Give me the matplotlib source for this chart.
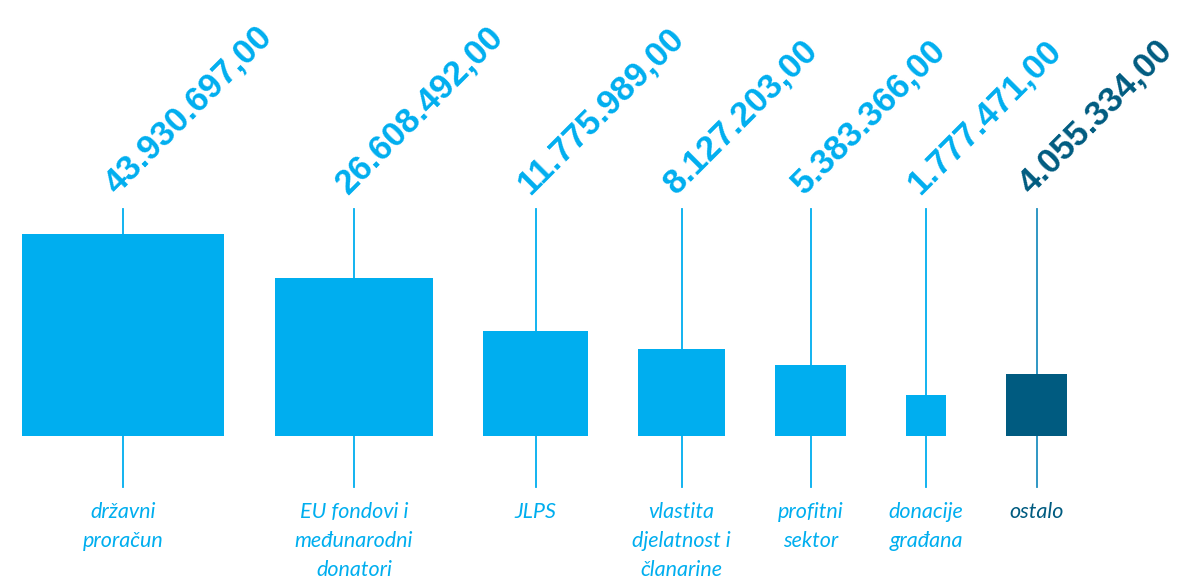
import numpy as np
import matplotlib.pyplot as plt
from matplotlib.patches import Rectangle

# Income sources (HRK)
categories = ['državni\nproračun', 'EU fondovi i\nmeđunarodni\ndonatori', 'JLPS',
              'vlastita\ndjelatnost i\nčlanarine', 'profitni\nsektor',
              'donacije\ngrađana', 'ostalo']
values = [43930697, 26608492, 11775989, 8127203, 5383366, 1777471, 4055334]
value_labels = ['43.930.697,00', '26.608.492,00', '11.775.989,00', '8.127.203,00',
                '5.383.366,00', '1.777.471,00', '4.055.334,00']

LIGHT = '#00aeef'
DARK = '#005b80'
colors = [LIGHT] * 6 + [DARK]

# horizontal centres of each column and common baseline (pixel units)
centers = [123, 354, 535.5, 681.5, 810.5, 926, 1036.5]
base_y = 435.5
side_scale = 202 / np.sqrt(values[0])  # square area proportional to value

fig = plt.figure(figsize=(11.82, 5.78), dpi=100)
ax = fig.add_axes([0, 0, 1, 1])
ax.set_xlim(0, 1182)
ax.set_ylim(578, 0)
ax.axis('off')

for cx, v, lab, cat, c in zip(centers, values, value_labels, categories, colors):
    side = side_scale * np.sqrt(v)
    line_c = '#1f8fbf' if c == DARK else LIGHT
    ax.plot([cx, cx], [209, 487], color=line_c, lw=1.3, zorder=1)
    ax.add_patch(Rectangle((cx - side / 2, base_y - side), side, side,
                           facecolor=c, edgecolor='none', zorder=2))
    ax.text(cx - 6, 195, lab, rotation=45, rotation_mode='anchor',
            ha='left', va='baseline', fontsize=25, fontweight='bold',
            family='Liberation Sans', color=c)
    ax.text(cx, 502, cat, ha='center', va='top', fontsize=15.5, style='italic',
            family='Lato', color=c, linespacing=1.55)

plt.savefig('out.png', dpi=100)
